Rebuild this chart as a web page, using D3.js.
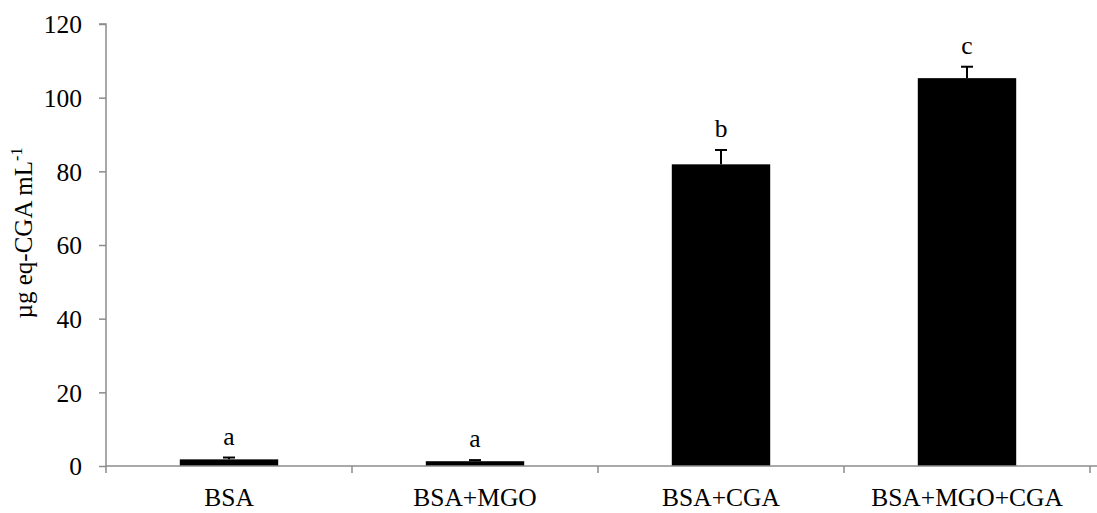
<!DOCTYPE html>
<html>
<head>
<meta charset="utf-8">
<script src="https://cdn.jsdelivr.net/npm/d3@7"></script>
<style>
  body { margin: 0; background: #fff; }
  text { font-family: "Liberation Serif", "Times New Roman", serif; fill: #000; }
</style>
</head>
<body>
<div id="chart"></div>
<script>
// data
var categories = ["BSA", "BSA+MGO", "BSA+CGA", "BSA+MGO+CGA"];
var means = [1.8, 1.3, 81.9, 105.3];
var errors = [0.5, 0.3, 3.9, 3.1];
var letters = ["a", "a", "b", "c"];
var yTicks = [0, 20, 40, 60, 80, 100, 120];

var margin = {top: 24, right: 7, bottom: 47, left: 106};
var W = 1097, H = 513;
var width = 1090 - margin.left;
var height = H - margin.top - margin.bottom;
var axisColor = "#8c8c8c";
var fontSize = "25.5px";

var x = d3.scaleBand().domain(categories).range([0, width]).paddingInner(0.6).paddingOuter(0.3);
var y = d3.scaleLinear().domain([0, 120]).range([height, 0]);

var svg = d3.select("#chart").append("svg")
    .attr("width", W)
    .attr("height", H)
    .append("g")
    .attr("transform", "translate(" + margin.left + "," + margin.top + ")");

// bars
svg.selectAll(".bar")
    .data(means)
    .enter().append("rect")
    .attr("x", function(d, i) { return x(categories[i]); })
    .attr("width", x.bandwidth())
    .attr("y", function(d) { return y(d); })
    .attr("height", function(d) { return y(0) - y(d); })
    .attr("fill", "#000");

// error bars (upper only)
var cx = function(i) { return x(categories[i]) + x.bandwidth() / 2; };
svg.selectAll(".err")
    .data(means)
    .enter().append("line")
    .attr("x1", function(d, i) { return cx(i); })
    .attr("x2", function(d, i) { return cx(i); })
    .attr("y1", function(d) { return y(d); })
    .attr("y2", function(d, i) { return y(d + errors[i]); })
    .attr("stroke", "#000").attr("stroke-width", 2);
svg.selectAll(".cap")
    .data(means)
    .enter().append("line")
    .attr("x1", function(d, i) { return cx(i) - 6; })
    .attr("x2", function(d, i) { return cx(i) + 6; })
    .attr("y1", function(d, i) { return y(d + errors[i]); })
    .attr("y2", function(d, i) { return y(d + errors[i]); })
    .attr("stroke", "#000").attr("stroke-width", 2);

// significance letters
svg.selectAll(".letter")
    .data(means)
    .enter().append("text")
    .attr("x", function(d, i) { return cx(i); })
    .attr("y", function(d, i) { return y(d + errors[i]) - 13; })
    .attr("text-anchor", "middle")
    .style("font-size", fontSize)
    .text(function(d, i) { return letters[i]; });

// y-axis
var yAxis = svg.append("g")
    .call(d3.axisLeft(y).tickValues(yTicks).tickSize(7).tickPadding(17));
yAxis.select(".domain").attr("d", "M0," + (height + 7) + "V0H-7").attr("stroke", axisColor).attr("stroke-width", 1.5);
yAxis.selectAll(".tick line").attr("stroke", axisColor).attr("stroke-width", 1.5);
yAxis.selectAll(".tick text").style("font-size", fontSize).attr("dy", "0.34em")
    .attr("font-family", null).style("font-family", "Liberation Serif");

// x-axis line with tick marks at band edges
var xg = svg.append("g").attr("transform", "translate(0," + height + ")");
xg.append("line")
    .attr("x1", 0).attr("x2", W - margin.left)
    .attr("stroke", axisColor).attr("stroke-width", 1.5);
var step = x.step();
var edges = d3.range(categories.length + 1).map(function(i) { return x(categories[0]) - x.paddingOuter() * step + i * step; });
xg.selectAll(".edge")
    .data(edges.slice(1))
    .enter().append("line")
    .attr("x1", function(d) { return d; })
    .attr("x2", function(d) { return d; })
    .attr("y1", 0).attr("y2", 7)
    .attr("stroke", axisColor).attr("stroke-width", 1.5);
xg.selectAll(".cat")
    .data(categories)
    .enter().append("text")
    .attr("x", function(d) { return x(d) + x.bandwidth() / 2; })
    .attr("y", 40)
    .attr("text-anchor", "middle")
    .style("font-size", fontSize)
    .text(function(d) { return d; });

// y-axis title
var title = svg.append("text")
    .attr("transform", "translate(-74," + (y(60) - 12) + ") rotate(-90)")
    .attr("text-anchor", "middle")
    .style("font-size", "25px");
title.append("tspan").text("\u00b5g eq-CGA mL");
title.append("tspan").attr("dy", "-0.6em").style("font-size", "16px").text("-1");
</script>
</body>
</html>
